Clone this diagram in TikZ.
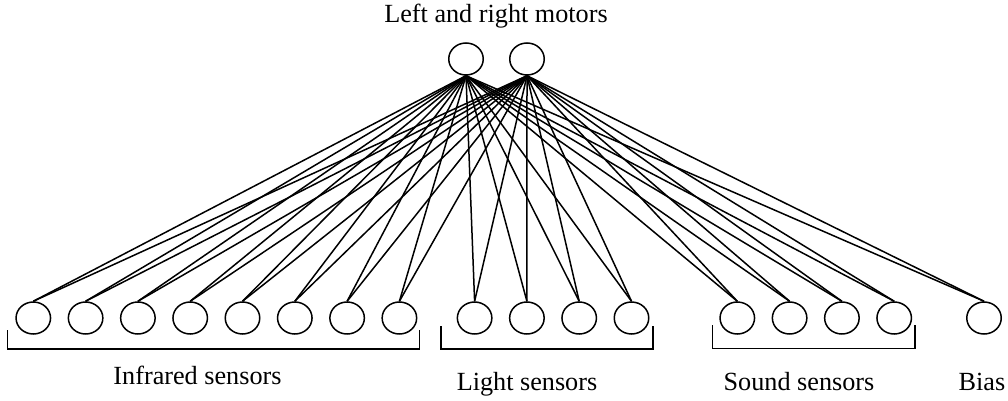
\documentclass[tikz,border=0pt]{standalone}
\usepackage{fontspec}
\setmainfont{Liberation Serif}
\usetikzlibrary{positioning, shapes.geometric}
\tikzset{
node distance=16.3pt,
unit/.style={%
    ellipse,
    draw=black,
    line width=1.5pt,
    minimum width=34.5pt,
    minimum height=32pt,
    inner sep=0pt
},
caption/.style={%
    anchor=base,
    inner sep=0pt,
    font=\fontsize{26.2}{30}\selectfont
},
bracket/.style={line width=1.5pt},
wire/.style={line width=1.5pt},
}

\begin{document}
\begin{tikzpicture}[x=1pt, y=-1pt]
\useasboundingbox (0,0) rectangle (1008,401);

% motors
\node[unit] (ml) at (466,59) {};
\node[unit,right=25pt of ml] (mr) {};

% infrared sensors
\node[unit] (ir1) at (33.3,318) {};
\node[unit,right=of ir1] (ir2) {};
\node[unit,right=of ir2] (ir3) {};
\node[unit,right=of ir3] (ir4) {};
\node[unit,right=of ir4] (ir5) {};
\node[unit,right=of ir5] (ir6) {};
\node[unit,right=of ir6] (ir7) {};
\node[unit,right=of ir7] (ir8) {};

% light sensors
\node[unit] (li1) at (474.6,318) {};
\node[unit,right=of li1] (li2) {};
\node[unit,right=of li2] (li3) {};
\node[unit,right=of li3] (li4) {};

% sound sensors
\node[unit] (so1) at (737.3,318) {};
\node[unit,right=of so1] (so2) {};
\node[unit,right=of so2] (so3) {};
\node[unit,right=of so3] (so4) {};

\node[unit] (bias) at (984,318) {};

% every motor gets every input
\foreach \m in {ml,mr}
  \foreach \s in {ir1,ir2,ir3,ir4,ir5,ir6,ir7,ir8,li1,li2,li3,li4,so1,so2,so3,so4,bias}
    \draw[wire] (\m.south) -- (\s.north);

% brackets
\draw[bracket] (7.3,330) -- (7.3,349) -- (419.3,349) -- (419.3,330);
\draw[bracket] (441,326) -- (441,349) -- (653,349) -- (653,326);
\draw[bracket] (712.3,325) -- (712.3,348.3) -- (915,348.3) -- (915,325);

% labels
\node[caption] (title) at (496,22.7) {Left and right motors};
\node[caption] (irlabel) at (197.5,384) {Infrared sensors};
\node[caption] (lilabel) at (527,390) {Light sensors};
\node[caption] (solabel) at (799,390) {Sound sensors};
\node[caption] (biaslabel) at (982,390) {Bias};

\end{tikzpicture}
\end{document}
